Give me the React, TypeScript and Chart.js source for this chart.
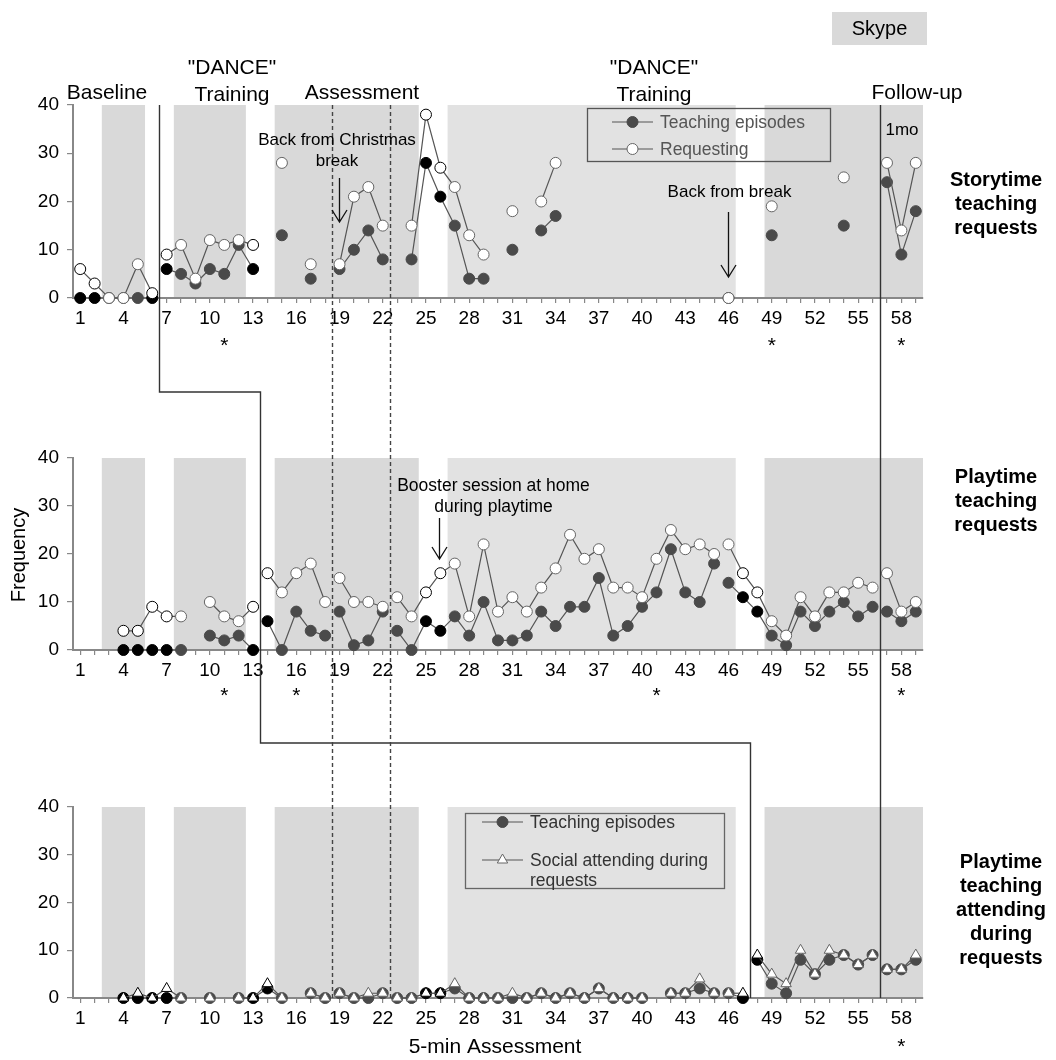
import React, { useEffect, useRef } from 'react';
import { Chart, registerables } from 'chart.js';
Chart.register(...registerables);

const W = 1056;
const H = 1060;
const FONT = '"Liberation Sans", Arial, Helvetica, sans-serif';

// ---------- data ----------
const xTickLabels = [1, 4, 7, 10, 13, 16, 19, 22, 25, 28, 31, 34, 37, 40, 43, 46, 49, 52, 55, 58];
const yTickValues = [0, 10, 20, 30, 40];

// Storytime teaching requests (sessions 1..59)
const storyTeaching = [
  0, 0, 0, 0, 0, 0, 6, 5, 3, 6,
  5, 11, 6, null, 13, null, 4, null, 6, 10,
  14, 8, null, 8, 28, 21, 15, 4, 4, null,
  10, null, 14, 17, null, null, null, null, null, null,
  null, null, null, null, null, 0, null, null, 13, null,
  null, null, null, 15, null, null, 24, 9, 18,
];
const storyRequesting = [
  6, 3, 0, 0, 7, 1, 9, 11, 4, 12,
  11, 12, 11, null, 28, null, 7, null, 7, 21,
  23, 15, null, 15, 38, 27, 23, 13, 9, null,
  18, null, 20, 28, null, null, null, null, null, null,
  null, null, null, null, null, 0, null, null, 19, null,
  null, null, null, 25, null, null, 28, 14, 28,
];

// Playtime teaching requests
const playTeaching = [
  null, null, null, 0, 0, 0, 0, 0, null, 3,
  2, 3, 0, 6, 0, 8, 4, 3, 8, 1,
  2, 8, 4, 0, 6, 4, 7, 3, 10, 2,
  2, 3, 8, 5, 9, 9, 15, 3, 5, 9,
  12, 21, 12, 10, 18, 14, 11, 8, 3, 1,
  8, 5, 8, 10, 7, 9, 8, 6, 8,
];
const playRequesting = [
  null, null, null, 4, 4, 9, 7, 7, null, 10,
  7, 6, 9, 16, 12, 16, 18, 10, 15, 10,
  10, 9, 11, 7, 12, 16, 18, 7, 22, 8,
  11, 8, 13, 17, 24, 19, 21, 13, 13, 11,
  19, 25, 21, 22, 20, 22, 16, 12, 6, 3,
  11, 7, 12, 12, 14, 13, 16, 8, 10,
];

// Playtime teaching attending during requests
const attendTeaching = [
  null, null, null, 0, 0, 0, 0, 0, null, 0,
  null, 0, 0, 2, 0, null, 1, 0, 1, 0,
  0, 1, 0, 0, 1, 1, 2, 0, 0, 0,
  0, 0, 1, 0, 1, 0, 2, 0, 0, 0,
  null, 1, 1, 2, 1, 1, 0, 8, 3, 1,
  8, 5, 8, 9, 7, 9, 6, 6, 8,
];
const attendSocial = [
  null, null, null, 0, 1, 0, 2, 0, null, 0,
  null, 0, 0, 3, 0, null, 1, 0, 1, 0,
  1, 1, 0, 0, 1, 1, 3, 0, 0, 0,
  1, 0, 1, 0, 1, 0, 2, 0, 0, 0,
  null, 1, 1, 4, 1, 1, 1, 9, 5, 3,
  10, 5, 10, 9, 7, 9, 6, 6, 9,
];

// sessions drawn in solid black
const blackStory = [1, 2, 6, 7, 13, 25, 26];
const blackPlay = [4, 5, 6, 7, 13, 14, 25, 26, 47, 48];

// asterisks under sessions
const starsStory = [11, 49, 58];
const starsPlay = [11, 16, 41, 58];
const starsAttend = [58];

// phase boundaries (session values)
const shadedBands = [[2.5, 5.5], [7.5, 12.5], [14.5, 24.5], [26.5, 46.5], [48.5, 59.5]];
const lightBandIndex = 3;
const dashedPhaseLines = [18.5, 22.5];
const followUpLine = 56.5;
const stepLine = [6.5, 13.5, 47.5];
const breaksStory = [6.5, 18.5, 22.5, 56.5];
const breaksPlay = [13.5, 18.5, 22.5, 45.5, 56.5];
const breaksAttend = [18.5, 22.5, 45.5, 47.5, 56.5];

// ---------- layout ----------
const GEO = {
  story: { top: 105, bottom: 298 },
  play: { top: 458, bottom: 650 },
  attend: { top: 807, bottom: 998 },
};
const CONNECT1 = 392;
const CONNECT2 = 743;
const CHART_LEFT = 73;
const CHART_RIGHT = 923;
const Y_AXIS_W = 40;
const X_AXIS_H = 32;

const DARK_BAND = '#d9d9d9';
const LIGHT_BAND = '#e2e2e2';

function txt(ctx, s, x, y, size, opt: any = {}) {
  ctx.save();
  ctx.font = `${opt.bold ? 'bold ' : ''}${size}px ${FONT}`;
  ctx.fillStyle = opt.color || '#000';
  ctx.textAlign = opt.align || 'center';
  ctx.textBaseline = opt.baseline || 'middle';
  ctx.fillText(s, x, y);
  ctx.restore();
}

function arrow(ctx, x, y1, y2) {
  ctx.save();
  ctx.strokeStyle = '#111';
  ctx.lineWidth = 1.3;
  ctx.beginPath();
  ctx.moveTo(x, y1);
  ctx.lineTo(x, y2);
  ctx.moveTo(x - 7.5, y2 - 12);
  ctx.lineTo(x, y2);
  ctx.lineTo(x + 7.5, y2 - 12);
  ctx.stroke();
  ctx.restore();
}

function marker(ctx, kind, x, y, r, fill, stroke) {
  ctx.save();
  ctx.beginPath();
  if (kind === 'triangle') {
    const h = Math.cos(Math.PI / 6) * r;
    ctx.moveTo(x, y - r);
    ctx.lineTo(x + h, y + r / 2);
    ctx.lineTo(x - h, y + r / 2);
    ctx.closePath();
  } else {
    ctx.arc(x, y, r, 0, Math.PI * 2);
  }
  ctx.fillStyle = fill;
  ctx.fill();
  ctx.strokeStyle = stroke;
  ctx.lineWidth = 1;
  ctx.stroke();
  ctx.restore();
}

function legendRow(ctx, kind, x1, x2, y, fill, stroke, r) {
  ctx.save();
  ctx.strokeStyle = '#555';
  ctx.lineWidth = 1.2;
  ctx.beginPath();
  ctx.moveTo(x1, y);
  ctx.lineTo(x2, y);
  ctx.stroke();
  ctx.restore();
  marker(ctx, kind, (x1 + x2) / 2, y, r, fill, stroke);
}

function stars(chart, list, y) {
  const x = chart.scales.x;
  list.forEach((s) => txt(chart.ctx, '*', x.getPixelForValue(s), y, 21, { baseline: 'alphabetic' }));
}

function drawGuides(chart) {
  const ctx = chart.ctx;
  const xs = chart.scales.x;
  const X = (v) => Math.round(xs.getPixelForValue(v)) + 0.5;
  const top = GEO.story.top;
  const bottom = GEO.attend.bottom;
  ctx.save();
  ctx.strokeStyle = '#333';
  ctx.lineWidth = 1.4;
  ctx.beginPath();
  ctx.moveTo(X(stepLine[0]), top);
  ctx.lineTo(X(stepLine[0]), CONNECT1);
  ctx.lineTo(X(stepLine[1]), CONNECT1);
  ctx.lineTo(X(stepLine[1]), CONNECT2);
  ctx.lineTo(X(stepLine[2]), CONNECT2);
  ctx.lineTo(X(stepLine[2]), bottom);
  ctx.stroke();
  ctx.beginPath();
  ctx.moveTo(X(followUpLine), top);
  ctx.lineTo(X(followUpLine), bottom);
  ctx.stroke();
  ctx.setLineDash([4, 3]);
  ctx.strokeStyle = '#444';
  dashedPhaseLines.forEach((v) => {
    ctx.beginPath();
    ctx.moveTo(X(v), top);
    ctx.lineTo(X(v), bottom);
    ctx.stroke();
  });
  ctx.restore();
}

function drawStoryText(chart) {
  const ctx = chart.ctx;
  const xs = chart.scales.x;
  // Skype box
  ctx.save();
  ctx.fillStyle = DARK_BAND;
  ctx.fillRect(832, 12, 95, 33);
  ctx.restore();
  txt(ctx, 'Skype', 879.5, 29, 20);
  // phase labels
  txt(ctx, 'Baseline', 107, 93, 21);
  txt(ctx, '"DANCE"', 232, 68, 21);
  txt(ctx, 'Training', 232, 95, 21);
  txt(ctx, 'Assessment', 362, 93, 21);
  txt(ctx, '"DANCE"', 654, 68, 21);
  txt(ctx, 'Training', 654, 95, 21);
  txt(ctx, 'Follow-up', 917, 93, 21);
  txt(ctx, '1mo', 902, 130, 17);
  // annotations
  txt(ctx, 'Back from Christmas', 337, 140, 17);
  txt(ctx, 'break', 337, 161, 17);
  arrow(ctx, Math.round(xs.getPixelForValue(19)) - 0.5, 178, 222);
  txt(ctx, 'Back from break', 729.5, 192, 17);
  arrow(ctx, Math.round(xs.getPixelForValue(46)) - 0.5, 212, 277);
  // legend
  ctx.save();
  ctx.strokeStyle = '#555';
  ctx.lineWidth = 1.3;
  ctx.strokeRect(587.5, 108.5, 243, 53);
  ctx.restore();
  legendRow(ctx, 'circle', 612, 653, 122, '#4a4a4a', '#4a4a4a', 5.5);
  txt(ctx, 'Teaching episodes', 660, 123, 17.5, { align: 'left', color: '#555' });
  legendRow(ctx, 'circle', 612, 653, 149, '#fff', '#666', 5.5);
  txt(ctx, 'Requesting', 660, 150, 17.5, { align: 'left', color: '#555' });
  // right title
  txt(ctx, 'Storytime', 996, 180, 20, { bold: true });
  txt(ctx, 'teaching', 996, 204, 20, { bold: true });
  txt(ctx, 'requests', 996, 228, 20, { bold: true });
  stars(chart, starsStory, 352);
}

function drawPlayText(chart) {
  const ctx = chart.ctx;
  const xs = chart.scales.x;
  txt(ctx, 'Booster session at home', 493.5, 486, 17.5);
  txt(ctx, 'during playtime', 493.5, 507, 17.5);
  arrow(ctx, Math.round(xs.getPixelForValue(26)) - 0.5, 518, 559);
  txt(ctx, 'Playtime', 996, 477, 20, { bold: true });
  txt(ctx, 'teaching', 996, 501, 20, { bold: true });
  txt(ctx, 'requests', 996, 525, 20, { bold: true });
  stars(chart, starsPlay, 702);
  ctx.save();
  ctx.translate(19, 555);
  ctx.rotate(-Math.PI / 2);
  txt(ctx, 'Frequency', 0, 0, 20);
  ctx.restore();
}

function drawAttendText(chart) {
  const ctx = chart.ctx;
  ctx.save();
  ctx.strokeStyle = '#666';
  ctx.lineWidth = 1.3;
  ctx.strokeRect(465.5, 813.5, 259, 75);
  ctx.restore();
  legendRow(ctx, 'circle', 482, 523, 822, '#4a4a4a', '#4a4a4a', 5.5);
  txt(ctx, 'Teaching episodes', 530, 823, 17.5, { align: 'left', color: '#333' });
  legendRow(ctx, 'triangle', 482, 523, 860, '#fff', '#666', 6);
  txt(ctx, 'Social attending during', 530, 861, 17.5, { align: 'left', color: '#333' });
  txt(ctx, 'requests', 530, 881, 17.5, { align: 'left', color: '#333' });
  txt(ctx, 'Playtime', 1001, 862, 20, { bold: true });
  txt(ctx, 'teaching', 1001, 886, 20, { bold: true });
  txt(ctx, 'attending', 1001, 910, 20, { bold: true });
  txt(ctx, 'during', 1001, 934, 20, { bold: true });
  txt(ctx, 'requests', 1001, 958, 20, { bold: true });
  stars(chart, starsAttend, 1053);
  txt(ctx, '5-min Assessment', 495, 1047, 21);
}

function makeDataset(label, values, kind, black, breaks) {
  const filled = kind === 'filled';
  return {
    label,
    data: values.map((v, i) => ({ x: i + 1, y: v })),
    borderColor: '#555',
    borderWidth: 1.2,
    pointStyle: kind === 'triangle' ? 'triangle' : 'circle',
    pointRadius: kind === 'triangle' ? 6 : 5.5,
    pointHoverRadius: kind === 'triangle' ? 6 : 5.5,
    pointBorderWidth: 1,
    pointBackgroundColor: values.map((_, i) => (filled ? (black.includes(i + 1) ? '#000' : '#4a4a4a') : '#fff')),
    pointBorderColor: values.map((_, i) =>
      filled ? (black.includes(i + 1) ? '#000' : '#4a4a4a') : black.includes(i + 1) ? '#000' : '#666'
    ),
    spanGaps: false,
    clip: false,
    segment: {
      borderColor: (ctx) =>
        breaks.some((b) => ctx.p0.parsed.x < b && ctx.p1.parsed.x > b) ? 'rgba(0,0,0,0)' : undefined,
    },
  };
}

function buildChart(canvas, spec) {
  const g = spec.geo;
  const plugin = {
    id: 'panel_' + spec.id,
    beforeDraw(chart) {
      const { ctx, chartArea: a, scales } = chart;
      const x = scales.x;
      ctx.save();
      shadedBands.forEach(([s, e], i) => {
        const x1 = x.getPixelForValue(s);
        const x2 = x.getPixelForValue(e);
        ctx.fillStyle = i === lightBandIndex ? LIGHT_BAND : DARK_BAND;
        ctx.fillRect(x1, a.top, x2 - x1, a.bottom - a.top);
      });
      ctx.restore();
    },
    beforeDatasetsDraw(chart) {
      if (spec.guides) drawGuides(chart);
    },
    afterDraw(chart) {
      spec.text(chart);
    },
  };
  const tickFont = { family: FONT, size: 19 };
  return new Chart(canvas, {
    type: 'line',
    data: { datasets: spec.datasets },
    plugins: [plugin],
    options: {
      responsive: false,
      animation: false,
      devicePixelRatio: 1,
      events: [],
      layout: {
        padding: {
          left: CHART_LEFT - Y_AXIS_W,
          right: W - CHART_RIGHT,
          top: g.top,
          bottom: H - g.bottom - X_AXIS_H,
        },
      },
      plugins: { legend: { display: false }, tooltip: { enabled: false } },
      scales: {
        x: {
          type: 'linear',
          min: 0.5,
          max: 59.5,
          afterBuildTicks: (s) => {
            s.ticks = spec.datasets[0].data.map((d) => ({ value: d.x }));
          },
          afterFit: (s) => {
            s.height = X_AXIS_H;
          },
          ticks: {
            autoSkip: false,
            maxRotation: 0,
            minRotation: 0,
            padding: 4,
            color: '#000',
            font: tickFont,
            callback: (v) => (xTickLabels.includes(v) ? String(v) : ''),
          },
          grid: { drawOnChartArea: false, drawTicks: true, tickLength: 5, color: '#888', lineWidth: 1.2 },
          border: { color: '#888', width: 2 },
        },
        y: {
          min: 0,
          max: 40,
          afterBuildTicks: (s) => {
            s.ticks = yTickValues.map((v) => ({ value: v }));
          },
          afterFit: (s) => {
            s.width = Y_AXIS_W;
          },
          ticks: { padding: 8, color: '#000', font: tickFont },
          grid: { drawOnChartArea: false, drawTicks: true, tickLength: 6, color: '#888', lineWidth: 1.2 },
          border: { color: '#888', width: 2 },
        },
      },
    },
  });
}

export default function App() {
  const rTop = useRef<HTMLCanvasElement>(null);
  const rMid = useRef<HTMLCanvasElement>(null);
  const rBot = useRef<HTMLCanvasElement>(null);

  useEffect(() => {
    const charts = [
      buildChart(rBot.current, {
        id: 'attend',
        geo: GEO.attend,
        guides: false,
        text: drawAttendText,
        datasets: [
          makeDataset('Social attending during requests', attendSocial, 'triangle', blackPlay, breaksAttend),
          makeDataset('Teaching episodes', attendTeaching, 'filled', blackPlay, breaksAttend),
        ],
      }),
      buildChart(rMid.current, {
        id: 'play',
        geo: GEO.play,
        guides: false,
        text: drawPlayText,
        datasets: [
          makeDataset('Requesting', playRequesting, 'open', blackPlay, breaksPlay),
          makeDataset('Teaching episodes', playTeaching, 'filled', blackPlay, breaksPlay),
        ],
      }),
      buildChart(rTop.current, {
        id: 'story',
        geo: GEO.story,
        guides: true,
        text: drawStoryText,
        datasets: [
          makeDataset('Requesting', storyRequesting, 'open', blackStory, breaksStory),
          makeDataset('Teaching episodes', storyTeaching, 'filled', blackStory, breaksStory),
        ],
      }),
    ];
    return () => charts.forEach((c) => c.destroy());
  }, []);

  const cs: React.CSSProperties = { position: 'absolute', left: 0, top: 0, width: W, height: H };
  return (
    <div style={{ position: 'fixed', left: 0, top: 0, width: W, height: H, background: '#fff', overflow: 'hidden' }}>
      <canvas ref={rBot} width={W} height={H} style={cs} />
      <canvas ref={rMid} width={W} height={H} style={cs} />
      <canvas ref={rTop} width={W} height={H} style={cs} />
    </div>
  );
}
